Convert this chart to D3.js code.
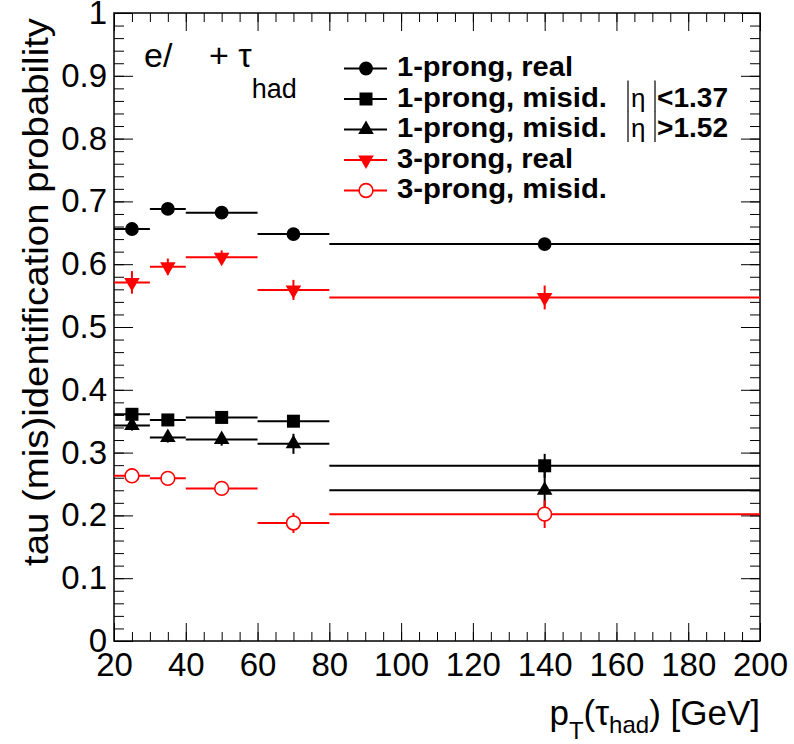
<!DOCTYPE html>
<html><head><meta charset="utf-8">
<script src="https://cdn.jsdelivr.net/npm/d3@7"></script>
<style>
html,body{margin:0;padding:0;background:#fff;}
text{font-family:"Liberation Sans",Arial,Helvetica,sans-serif;}
</style></head>
<body><svg id="c" width="794" height="744"></svg>
<script>
// ---- data ----
const binEdges = [20, 30, 40, 60, 80, 200];
const binCenters = [25, 35, 50, 70, 140];
const oneProngReal = [0.656, 0.688, 0.682, 0.648, 0.632];
const oneProngRealErr = [0.004, 0.004, 0.004, 0.004, 0.004];
const oneProngMisidCentral = [0.361, 0.352, 0.356, 0.350, 0.279];
const oneProngMisidCentralErr = [0.008, 0.006, 0.006, 0.008, 0.019];
const oneProngMisidForward = [0.343, 0.324, 0.321, 0.314, 0.240];
const oneProngMisidForwardErr = [0.008, 0.008, 0.010, 0.016, 0.030];
const threeProngReal = [0.571, 0.596, 0.611, 0.559, 0.547];
const threeProngRealErr = [0.018, 0.013, 0.011, 0.016, 0.019];
const threeProngMisid = [0.263, 0.259, 0.243, 0.188, 0.202];
const threeProngMisidErr = [0.006, 0.006, 0.006, 0.016, 0.022];
const legendLabels = ["1-prong, real", "1-prong, misid.", "1-prong, misid.", "3-prong, real", "3-prong, misid."];
const xTickValues = [20, 40, 60, 80, 100, 120, 140, 160, 180, 200];
const yTickValues = [0, 0.1, 0.2, 0.3, 0.4, 0.5, 0.6, 0.7, 0.8, 0.9, 1];
const yTickLabels = ["0", "0.1", "0.2", "0.3", "0.4", "0.5", "0.6", "0.7", "0.8", "0.9", "1"];

const series = [
  {vals: oneProngReal, errs: oneProngRealErr, color: "#000", marker: "circle"},
  {vals: oneProngMisidCentral, errs: oneProngMisidCentralErr, color: "#000", marker: "square"},
  {vals: oneProngMisidForward, errs: oneProngMisidForwardErr, color: "#000", marker: "triangleUp"},
  {vals: threeProngReal, errs: threeProngRealErr, color: "#ff0000", marker: "triangleDown"},
  {vals: threeProngMisid, errs: threeProngMisidErr, color: "#ff0000", marker: "openCircle"}
];

// ---- layout ----
const L = 114, R = 760, T = 13, B = 641;
const svg = d3.select("#c");
const x = d3.scaleLinear().domain([20, 200]).range([L, R]);
const y = d3.scaleLinear().domain([0, 1]).range([B, T]);

function markerPath(type) {
  if (type === "circle" || type === "openCircle") return d3.symbol(d3.symbolCircle, 150)();
  if (type === "square") return d3.symbol(d3.symbolSquare, 169)();
  return d3.symbol(d3.symbolTriangle, 105)();
}
function drawMarker(g, type, color, cx, cy) {
  const p = g.append("path").attr("d", markerPath(type))
    .attr("transform", `translate(${cx},${cy})` + (type === "triangleDown" ? " rotate(180)" : ""));
  if (type === "openCircle") p.attr("fill", "#fff").attr("stroke", color).attr("stroke-width", 1.6);
  else p.attr("fill", color);
}

// ---- axes ----
const minorX = d3.range(20, 200.01, 5);
const minorY = d3.range(0, 1.0001, 0.02);
const axStyle = g => { g.select(".domain").remove(); g.selectAll("line").attr("stroke", "#000").attr("stroke-width", 1); };

svg.append("g").attr("transform", `translate(0,${B})`)
  .call(d3.axisBottom(x).tickValues(minorX).tickSize(-9).tickFormat("")).call(axStyle);
svg.append("g").attr("transform", `translate(0,${B})`)
  .call(d3.axisBottom(x).tickValues(xTickValues).tickSize(-18).tickPadding(12).tickFormat(d3.format("d")))
  .call(axStyle)
  .call(g => g.selectAll("text").attr("font-size", 33).attr("fill", "#000").attr("font-family", '"Liberation Sans",Arial,sans-serif'));
svg.append("g").attr("transform", `translate(0,${T})`)
  .call(d3.axisTop(x).tickValues(minorX).tickSize(-9).tickFormat("")).call(axStyle);
svg.append("g").attr("transform", `translate(0,${T})`)
  .call(d3.axisTop(x).tickValues(xTickValues).tickSize(-18).tickFormat("")).call(axStyle);

svg.append("g").attr("transform", `translate(${L},0)`)
  .call(d3.axisLeft(y).tickValues(minorY).tickSize(-10).tickFormat("")).call(axStyle);
svg.append("g").attr("transform", `translate(${L},0)`)
  .call(d3.axisLeft(y).tickValues(yTickValues).tickSize(-19).tickPadding(7).tickFormat((d, i) => yTickLabels[i]))
  .call(axStyle)
  .call(g => g.selectAll("text").attr("font-size", 33).attr("fill", "#000").attr("font-family", '"Liberation Sans",Arial,sans-serif'));
svg.append("g").attr("transform", `translate(${R},0)`)
  .call(d3.axisRight(y).tickValues(minorY).tickSize(-10).tickFormat("")).call(axStyle);
svg.append("g").attr("transform", `translate(${R},0)`)
  .call(d3.axisRight(y).tickValues(yTickValues).tickSize(-19).tickFormat("")).call(axStyle);

svg.append("rect").attr("x", L).attr("y", T).attr("width", R - L).attr("height", B - T)
  .attr("fill", "none").attr("stroke", "#000").attr("stroke-width", 1.5);

// ---- data marks ----
const plot = svg.append("g");
series.forEach(s => {
  const g = plot.append("g");
  s.vals.forEach((v, i) => {
    g.append("line").attr("x1", x(binEdges[i])).attr("x2", x(binEdges[i + 1]))
      .attr("y1", y(v)).attr("y2", y(v)).attr("stroke", s.color).attr("stroke-width", 2);
    g.append("line").attr("x1", x(binCenters[i])).attr("x2", x(binCenters[i]))
      .attr("y1", y(v - s.errs[i])).attr("y2", y(v + s.errs[i])).attr("stroke", s.color).attr("stroke-width", 2);
  });
  s.vals.forEach((v, i) => drawMarker(g, s.marker, s.color, x(binCenters[i]), y(v)));
});

// ---- legend ----
const legBase = [76, 106.5, 137, 167.5, 198];
const legWidths = [176, 210, 210, 176, 210];
const leg = svg.append("g");
series.forEach((s, i) => {
  const cy = legBase[i] - 7.5;
  leg.append("line").attr("x1", 344).attr("x2", 387).attr("y1", cy).attr("y2", cy)
    .attr("stroke", s.color).attr("stroke-width", 2);
  drawMarker(leg, s.marker, s.color, 366, cy);
  leg.append("text").attr("x", 397).attr("y", legBase[i]).attr("font-size", 27).attr("font-weight", "bold")
    .attr("textLength", legWidths[i]).attr("lengthAdjust", "spacingAndGlyphs")
    .text(legendLabels[i]);
});
// |eta| cuts
const etaCuts = ["<1.37", ">1.52"];
[1, 2].forEach((row, k) => {
  const base = legBase[row];
  const top = base - 26, bot = base + 5;
  leg.append("line").attr("x1", 628).attr("x2", 628).attr("y1", top).attr("y2", bot).attr("stroke", "#333").attr("stroke-width", 1.5);
  leg.append("line").attr("x1", 655).attr("x2", 655).attr("y1", top).attr("y2", bot).attr("stroke", "#333").attr("stroke-width", 1.5);
  leg.append("text").attr("x", 631).attr("y", base).attr("font-size", 26)
    .attr("font-family", '"Liberation Serif","Times New Roman",serif').text("η");
  leg.append("text").attr("x", 657).attr("y", base).attr("font-size", 27).attr("font-weight", "bold")
    .attr("textLength", 71).attr("lengthAdjust", "spacingAndGlyphs").text(etaCuts[k]);
});

// ---- top-left label ----
svg.append("text").attr("x", 144).attr("y", 67).attr("font-size", 34).text("e/");
const lbl = svg.append("text").attr("x", 209).attr("y", 67).attr("font-size", 34);
lbl.append("tspan").text("+ τ");
lbl.append("tspan").attr("dy", 31).attr("font-size", 27).text("had");

// ---- axis titles ----
const xt = svg.append("text").attr("x", 760).attr("y", 725).attr("font-size", 35).attr("text-anchor", "end");
xt.append("tspan").text("p");
xt.append("tspan").attr("dy", 14).attr("font-size", 24).text("T");
xt.append("tspan").attr("dy", -14).text("(τ");
xt.append("tspan").attr("dy", 8).attr("font-size", 24).text("had");
xt.append("tspan").attr("dy", -8).text(") [GeV]");

svg.append("text").attr("transform", "translate(48,566) rotate(-90)")
  .attr("text-anchor", "start").attr("font-size", 35)
  .attr("textLength", 548).attr("lengthAdjust", "spacingAndGlyphs")
  .text("tau (mis)identification probability");
</script></body></html>
